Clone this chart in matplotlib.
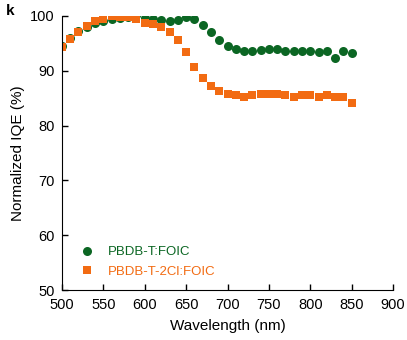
import matplotlib
matplotlib.use('Agg')
import matplotlib.pyplot as plt

plt.rcParams['font.family'] = ['Liberation Sans', 'DejaVu Sans']

wl_green = list(range(500, 860, 10))
iqe_green = [94.5, 95.9, 97.2, 98.0, 98.7, 99.1, 99.5, 99.6, 99.8, 100.1,
             99.7, 99.5, 99.3, 99.1, 99.3, 99.8, 99.5, 98.4, 97.0, 95.6,
             94.6, 94.0, 93.7, 93.7, 93.8, 93.9, 93.9, 93.6, 93.7, 93.6,
             93.6, 93.5, 93.7, 92.3, 93.7, 93.2]

wl_orange = list(range(500, 860, 10))
iqe_orange = [94.4, 95.8, 97.1, 98.2, 99.0, 99.5, 100.0, 99.9, 99.8, 99.4,
              98.8, 98.5, 98.0, 97.1, 95.7, 93.4, 90.6, 88.7, 87.3, 86.4,
              85.7, 85.6, 85.3, 85.5, 85.7, 85.7, 85.7, 85.5, 85.3, 85.5,
              85.5, 85.2, 85.6, 85.3, 85.2, 84.2]

labels = ['PBDB-T:FOIC', 'PBDB-T-2Cl:FOIC']
green = '#0b6623'
orange = '#f26b12'

fig = plt.figure(figsize=(4.07, 3.4), dpi=100)
ax = fig.add_axes([0.152, 0.147, 0.814, 0.806])

ax.plot(wl_green, iqe_green, 'o', color=green, markersize=6.5,
        markeredgewidth=0, label=labels[0])
ax.plot(wl_orange, iqe_orange, 's', color=orange, markersize=6.2,
        markeredgewidth=0, label=labels[1])

ax.set_xlim(500, 900)
ax.set_ylim(50, 100)
ax.set_xticks(range(500, 901, 50))
ax.set_yticks(range(50, 101, 10))
ax.spines['top'].set_visible(False)
ax.spines['right'].set_visible(False)
ax.tick_params(direction='in', length=4, labelsize=10.5, width=1)
ax.tick_params(axis='x', pad=6)
ax.tick_params(axis='y', pad=5)
ax.set_xlabel('Wavelength (nm)', fontsize=11, labelpad=5)
ax.set_ylabel('Normalized IQE (%)', fontsize=11, labelpad=4)

leg = ax.legend(loc='lower left', frameon=False, fontsize=9.5,
                handletextpad=0.6, labelspacing=0.55, borderaxespad=0,
                bbox_to_anchor=(0.02, 0.025))
for txt, c in zip(leg.get_texts(), [green, orange]):
    txt.set_color(c)

fig.text(0.015, 0.955, 'k', fontsize=11, fontweight='bold')

fig.savefig('out.png', dpi=100)
